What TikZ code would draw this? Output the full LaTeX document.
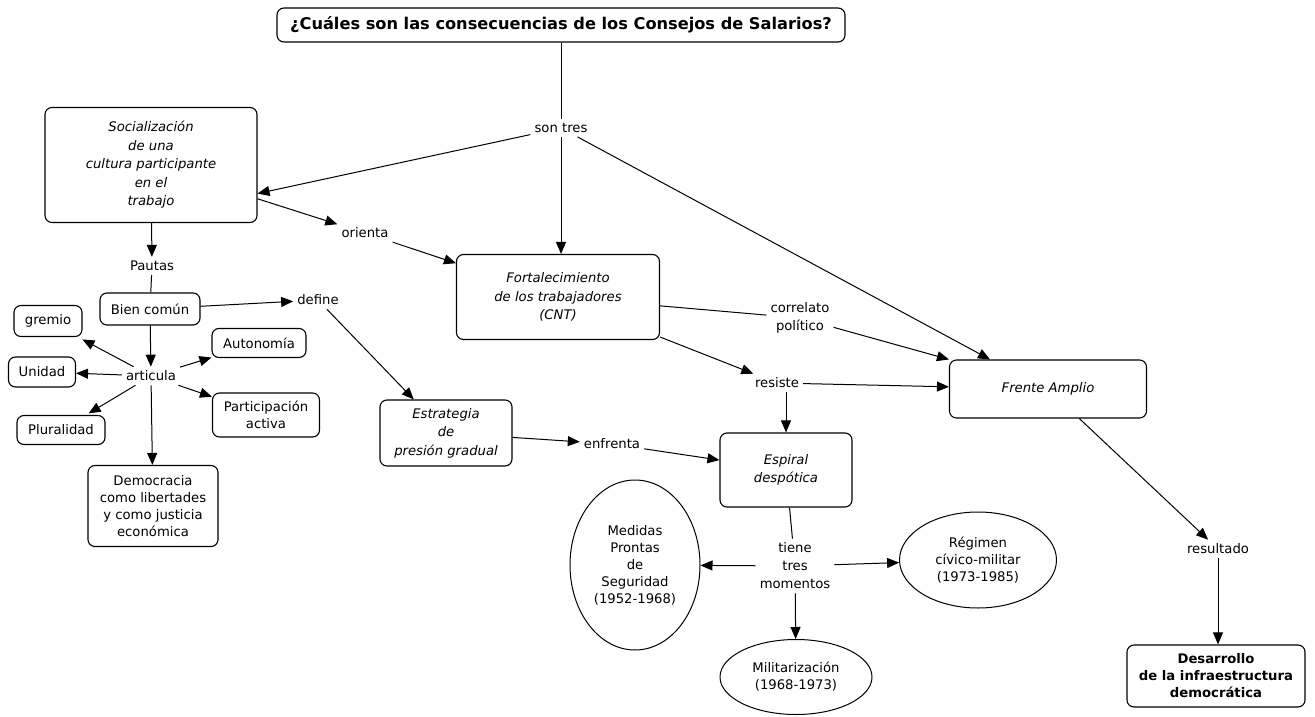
\documentclass[tikz,border=0pt]{standalone}
\usepackage{fontspec}
\setmainfont{DejaVu Sans}
\usetikzlibrary{arrows.meta,shapes.geometric}
\begin{document}
\begin{tikzpicture}[x=1pt,y=-1pt,
  box/.style={draw, rounded corners=7pt, line width=1.1pt, fill=white, align=center, inner sep=2pt, font=\fontsize{13.2}{17}\selectfont},
  ibox/.style={box, font=\fontsize{13.2}{18.5}\selectfont\itshape},
  lbl/.style={align=center, inner sep=4pt, font=\fontsize{13.2}{18}\selectfont},
  ell/.style={draw, ellipse, line width=1pt, align=center, inner sep=0pt, font=\fontsize{13.2}{17}\selectfont},
  conn/.style={line width=1pt},
  arr/.style={conn, -{Triangle[length=12pt,width=10pt]}},
]
\useasboundingbox (0,0) rectangle (1315,717);
\node[box, font=\fontsize{16.2}{18}\selectfont\bfseries, minimum width=568pt, minimum height=34pt] (title) at (561,25) {¿Cuáles son las consecuencias de los Consejos de Salarios?};
\node[lbl] (sontres) at (561,128) {son tres};
\node[ibox, minimum width=212pt, minimum height=115pt] (soc) at (151,165) {Socialización\\de una\\cultura participante\\en el\\trabajo};
\node[ibox, minimum width=203pt, minimum height=85pt] (fort) at (558,297) {Fortalecimiento\\de los trabajadores\\(CNT)};
\node[ibox, minimum width=197pt, minimum height=58pt] (frente) at (1048,389) {Frente Amplio};
\node[lbl] (orienta) at (365,233) {orienta};
\node[lbl] (pautas) at (152,266) {Pautas};
\node[box, minimum width=100pt, minimum height=32pt] (bien) at (150,309) {Bien común};
\node[lbl] (define) at (318,300) {define};
\node[box, minimum width=68pt, minimum height=31pt] (gremio) at (48,321) {gremio};
\node[box, minimum width=94pt, minimum height=29pt] (auto) at (259,343) {Autonomía};
\node[box, minimum width=67pt, minimum height=30pt] (unidad) at (42,372) {Unidad};
\node[lbl] (articula) at (151,376) {articula};
\node[box, minimum width=88pt, minimum height=29pt] (plural) at (61,430) {Pluralidad};
\node[box, minimum width=107pt, minimum height=44pt] (partic) at (266,415) {Participación\\activa};
\node[box, minimum width=130pt, minimum height=81pt] (demo) at (153,506) {Democracia\\como libertades\\y como justicia\\económica};
\node[lbl] (correlato) at (800,318) {correlato\\político};
\node[lbl] (resiste) at (777,383) {resiste};
\node[ibox, minimum width=132pt, minimum height=66pt] (estr) at (446,433) {Estrategia\\de\\presión gradual};
\node[lbl] (enfrenta) at (612,444) {enfrenta};
\node[ibox, minimum width=132pt, minimum height=74pt] (espiral) at (786,470) {Espiral\\despótica};
\node[lbl] (tiene) at (795,566) {tiene\\tres\\momentos};
\node[ell, minimum width=130pt, minimum height=170pt] (medidas) at (635,565) {Medidas\\Prontas\\de\\Seguridad\\(1952-1968)};
\node[ell, minimum width=157pt, minimum height=96pt] (regimen) at (978,560) {Régimen\\cívico-militar\\(1973-1985)};
\node[ell, minimum width=152pt, minimum height=75pt] (milit) at (796,677) {Militarización\\(1968-1973)};
\node[lbl] (resultado) at (1218,549) {resultado};
\node[box, font=\fontsize{13.2}{17}\selectfont\bfseries, minimum width=178pt, minimum height=62pt] (desa) at (1216,676) {Desarrollo\\de la infraestructura\\democrática};

\draw[conn] (title) -- (sontres);
\draw[arr] (sontres) -- (soc.345);
\draw[arr] (sontres) -- (fort.north -| sontres);
\draw[arr] (sontres) -- (frente.153);
\draw[arr] (soc) -- (orienta);
\draw[arr] (orienta) -- (fort);
\draw[arr] (soc) -- (pautas);
\draw[conn] (pautas) -- (bien);
\draw[arr] (bien) -- (define);
\draw[arr] (define) -- (estr);
\draw[arr] (bien) -- (articula);
\draw[arr, shorten >=5pt] (articula) -- (gremio);
\draw[arr] (articula) -- (unidad);
\draw[arr, shorten >=3pt] (articula) -- (plural);
\draw[arr] (articula) -- (auto);
\draw[arr] (articula) -- (partic);
\draw[arr] (articula) -- (demo);
\draw[conn] (fort) -- (correlato);
\draw[arr] (correlato) -- (frente.north west);
\draw[arr] (fort) -- (resiste);
\draw[arr] (resiste) -- (frente);
\draw[arr] (resiste.south -| espiral) -- (espiral);
\draw[arr] (estr) -- (enfrenta);
\draw[arr] (enfrenta) -- (espiral);
\draw[conn] (espiral) -- (tiene);
\draw[arr] (tiene) -- (medidas);
\draw[arr] (tiene) -- (regimen);
\draw[arr] (tiene) -- (milit);
\draw[arr] (frente) -- (resultado);
\draw[arr] (resultado) -- (desa.north -| resultado);
\end{tikzpicture}
\end{document}
